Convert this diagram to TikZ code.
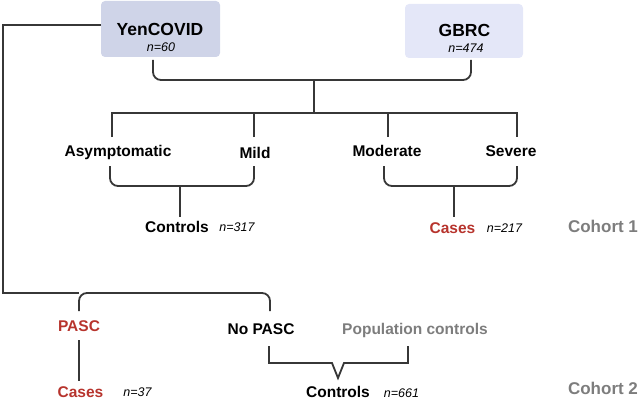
\documentclass[tikz,border=0pt]{standalone}
\usepackage{fontspec}
\setmainfont{Liberation Sans}
\definecolor{lcol}{RGB}{55,55,55}
\definecolor{cred}{RGB}{183,52,45}
\definecolor{cgray}{RGB}{125,125,125}
\definecolor{yenfill}{RGB}{207,212,232}
\definecolor{gbrcfill}{RGB}{228,231,248}
\begin{document}
\begin{tikzpicture}[x=1pt,y=-1pt,
  lbl/.style={font=\bfseries\fontsize{15.5}{18}\selectfont, inner sep=0pt, anchor=base},
  ttl/.style={font=\bfseries\fontsize{17.5}{20}\selectfont, inner sep=0pt, anchor=base},
  nn/.style={font=\itshape\fontsize{12.5}{15}\selectfont, inner sep=0pt, anchor=base},
  cohort/.style={font=\bfseries\fontsize{17}{20}\selectfont, text=cgray, inner sep=0pt, anchor=base},
  boxnode/.style={rounded corners=4pt, inner sep=0pt},
  conn/.style={draw=lcol, line width=1.8pt},
  brk/.style={conn, rounded corners=8pt}]
\useasboundingbox (0,0) rectangle (642,401);
% boxes
\node[boxnode, fill=yenfill, minimum width=119pt, minimum height=56pt] (yen) at (160.5,29) {};
\node[boxnode, fill=gbrcfill, minimum width=118pt, minimum height=54pt] (gbrc) at (464,31) {};
\node[ttl] (yent) at (160,36) {YenCOVID};
\node[nn] (yenn) at (161,52) {n=60};
\node[ttl] (gbrct) at (464.5,37) {GBRC};
\node[nn] (gbrcn) at (466,53) {n=474};
% severity
\node[lbl] (asym) at (118,156) {Asymptomatic};
\node[lbl] (mild) at (255,158) {Mild};
\node[lbl] (mod) at (387,156) {Moderate};
\node[lbl] (sev) at (511,156) {Severe};
\node[lbl] (ctrl1) at (177,232) {Controls};
\node[nn] (ctrl1n) at (237,231) {n=317};
\node[lbl, text=cred] (case1) at (452.5,233) {Cases};
\node[nn] (case1n) at (504.5,232) {n=217};
\node[cohort] (coh1) at (603,232) {Cohort 1};
% cohort 2
\node[lbl, text=cred] (pasc) at (79,331) {PASC};
\node[lbl] (nopasc) at (261,334) {No PASC};
\node[lbl, text=cgray] (pop) at (415,334) {Population controls};
\node[lbl, text=cred] (case2) at (80.5,397) {Cases};
\node[nn] (case2n) at (137.5,396) {n=37};
\node[lbl] (ctrl2) at (338,397) {Controls};
\node[nn] (ctrl2n) at (401.5,397) {n=661};
\node[cohort] (coh2) at (603,394) {Cohort 2};
% coordinates
\coordinate (yenL) at (101,25);
\coordinate (leftTop) at (3,25);
\coordinate (leftBot) at (3,293);
\coordinate (pascTop) at (79,311);
\coordinate (nopascTop) at (270,311);
\coordinate (yenB) at (153,60);
\coordinate (gbrcB) at (471,60);
\coordinate (mergeA) at (314,80);
\coordinate (mergeB) at (314,113);
\coordinate (asymT) at (112,137);
\coordinate (mildT) at (254,137);
\coordinate (modT) at (388,137);
\coordinate (sevT) at (517,137);
\coordinate (asymB) at (110,166);
\coordinate (mildB) at (254,166);
\coordinate (modB) at (384,166);
\coordinate (sevB) at (517,166);
\coordinate (c1a) at (180,186);
\coordinate (c1b) at (180,217);
\coordinate (c2a) at (454,186);
\coordinate (c2b) at (454,217);
\coordinate (pascB) at (79,340);
\coordinate (case2T) at (79,381);
\coordinate (nopascB) at (269,346);
\coordinate (popB) at (408,346);
\coordinate (vtip) at (338,378);
% connectors
\draw[conn] (yenL) -- (leftTop) -- (leftBot) -- (pascTop |- leftBot);
\draw[brk] (pascTop) -- (79,293) -- (270,293) -- (nopascTop);
\draw[brk] (yenB) -- (153,80) -- (471,80) -- (gbrcB);
\draw[conn] (mergeA) -- (mergeB);
\draw[conn] (asymT) -- (112,113) -- (517,113) -- (sevT);
\draw[conn] (mildT) -- (254,113);
\draw[conn] (modT) -- (388,113);
\draw[brk] (asymB) -- (110,186) -- (254,186) -- (mildB);
\draw[conn] (c1a) -- (c1b);
\draw[brk] (modB) -- (384,186) -- (517,186) -- (sevB);
\draw[conn] (c2a) -- (c2b);
\draw[conn] (pascB) -- (case2T);
\draw[conn] (nopascB) -- (269,363) -- (332,363) -- (vtip) -- (344,363) -- (408,363) -- (popB);
\end{tikzpicture}
\end{document}
